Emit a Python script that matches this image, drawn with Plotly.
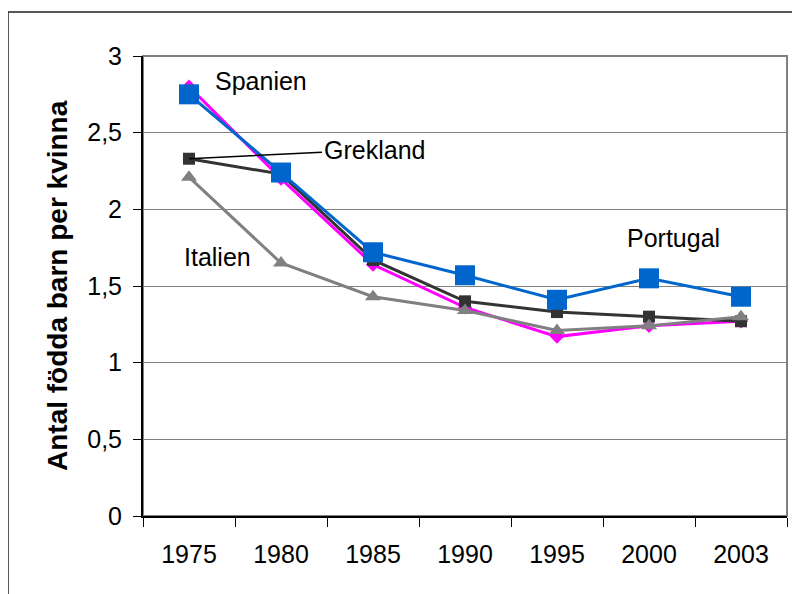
import plotly.graph_objects as go

years = ["1975", "1980", "1985", "1990", "1995", "2000", "2003"]
spanien = [2.80, 2.20, 1.64, 1.36, 1.17, 1.24, 1.27]
grekland = [2.33, 2.23, 1.67, 1.40, 1.33, 1.30, 1.27]
italien = [2.21, 1.65, 1.43, 1.34, 1.21, 1.24, 1.30]
portugal = [2.75, 2.24, 1.72, 1.57, 1.41, 1.55, 1.43]

ytick_vals = [0, 0.5, 1, 1.5, 2, 2.5, 3]
ytick_text = ["0", "0,5", "1", "1,5", "2", "2,5", "3"]

FONT = "Liberation Sans, Arial, sans-serif"

fig = go.Figure()
fig.add_trace(go.Scatter(x=years, y=spanien, mode="lines+markers", name="Spanien",
                         line=dict(color="#FF00FF", width=3),
                         marker=dict(symbol="diamond", size=11, color="#FF00FF")))
fig.add_trace(go.Scatter(x=years, y=grekland, mode="lines+markers", name="Grekland",
                         line=dict(color="#333333", width=3),
                         marker=dict(symbol="square", size=12, color="#333333")))
fig.add_trace(go.Scatter(x=years, y=italien, mode="lines+markers", name="Italien",
                         line=dict(color="#808080", width=3),
                         marker=dict(symbol="triangle-up", size=14, color="#808080")))
fig.add_trace(go.Scatter(x=years, y=portugal, mode="lines+markers", name="Portugal",
                         line=dict(color="#0066CC", width=3),
                         marker=dict(symbol="square", size=20, color="#0066CC")))

fig.update_layout(
    width=800, height=594,
    margin=dict(l=135, r=21, t=48, b=86),
    paper_bgcolor="white", plot_bgcolor="white",
    showlegend=False,
    font=dict(family=FONT, size=25, color="black"),
    xaxis=dict(type="category", range=[-0.5, 6.5], showgrid=False,
               showline=True, linecolor="black", linewidth=2,
               ticks="outside", tickson="boundaries", ticklen=9, tickcolor="black",
               tickwidth=1, ticklabelstandoff=15,
               tickfont=dict(family=FONT, size=25, color="black"), mirror=False),
    yaxis=dict(range=[0, 3], tickvals=ytick_vals, ticktext=ytick_text,
               showgrid=True, gridcolor="#808080", gridwidth=1,
               showline=True, linecolor="black", linewidth=2,
               ticks="outside", ticklen=8, tickcolor="black", tickwidth=1,
               ticklabelstandoff=6, zeroline=False,
               tickfont=dict(family=FONT, size=25, color="black")),
)

# plot-area border (top/right grey)
fig.add_shape(type="rect", xref="paper", yref="paper", x0=0, y0=0, x1=1, y1=1,
              line=dict(color="#808080", width=2), layer="below")
# outer chart border
fig.add_shape(type="rect", xref="paper", yref="paper",
              x0=(8 - 143) / 644, y0=(516 - 620) / 460,
              x1=(830 - 143) / 644, y1=(516 - 12) / 460,
              line=dict(color="#222222", width=1.5))

fig.add_annotation(xref="paper", yref="paper", x=(57 - 143) / 644, y=0.5,
                   xanchor="center", yanchor="middle",
                   text="<b>Antal födda barn per kvinna</b>", textangle=-90,
                   showarrow=False, font=dict(family=FONT, size=28, color="black"))

fig.add_annotation(x=0.78, y=2.84, text="Spanien", showarrow=False)
fig.add_annotation(x=0.315, y=1.69, text="Italien", showarrow=False)
fig.add_annotation(x=5.27, y=1.81, text="Portugal", showarrow=False)
fig.add_annotation(x=0, y=grekland[0], text="Grekland", showarrow=True,
                   arrowhead=0, arrowwidth=1.5, arrowcolor="black",
                   ax=185, ay=-9, xanchor="center")

fig.write_html("out.html")
